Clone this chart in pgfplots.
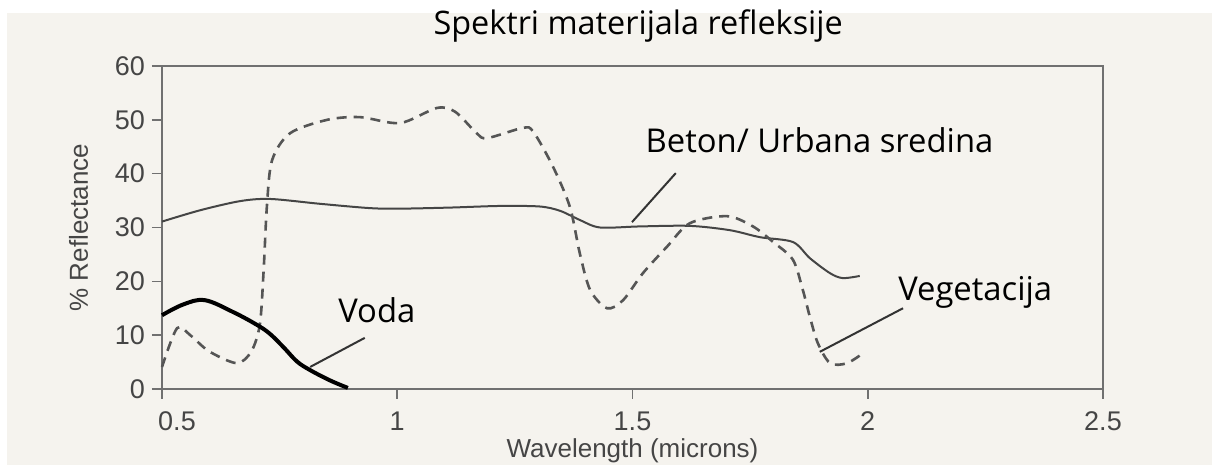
\documentclass[border=0pt]{standalone}
\usepackage{pgfplots}
\usepackage{pgfplotstable}
\pgfplotsset{compat=1.18}
\usepackage{fontspec}
\setmainfont{Open Sans}
\newfontfamily\labelfont{Liberation Sans}
\definecolor{bg}{HTML}{F5F3EE}
\definecolor{axgray}{HTML}{707070}
\definecolor{txtgray}{HTML}{454545}
\definecolor{concrete}{HTML}{454545}
\definecolor{veg}{HTML}{555555}
\definecolor{leader}{HTML}{333333}

\pgfplotstableread{
x y
0.500 31.1
0.581 33.2
0.666 34.9
0.730 35.3
0.836 34.4
0.942 33.6
1.006 33.5
1.112 33.7
1.218 34.0
1.303 33.9
1.346 33.1
1.388 31.4
1.431 30.0
1.516 30.2
1.622 30.3
1.707 29.5
1.771 28.2
1.841 27.3
1.877 24.3
1.920 21.5
1.947 20.6
1.983 21.0
}\concretedata

\pgfplotstableread{
x y
0.500 4.1
0.532 11.3
0.560 10.0
0.600 7.0
0.659 4.8
0.690 7.0
0.708 12.0
0.716 22.0
0.723 34.0
0.734 42.5
0.772 47.5
0.851 50.0
0.921 50.5
1.006 49.4
1.084 52.2
1.123 51.5
1.169 47.5
1.191 46.6
1.267 48.5
1.289 47.8
1.331 41.3
1.367 33.8
1.388 25.2
1.410 18.4
1.446 15.0
1.480 16.5
1.522 21.5
1.573 26.4
1.622 30.8
1.701 32.1
1.756 30.2
1.799 27.3
1.841 24.0
1.862 18.4
1.877 13.4
1.894 8.5
1.920 4.8
1.956 4.8
1.994 6.9
}\vegdata

\pgfplotstableread{
x y
0.500 13.7
0.545 15.7
0.591 16.5
0.651 14.3
0.702 11.9
0.730 10.2
0.760 7.6
0.787 5.1
0.815 3.5
0.857 1.6
0.895 0.2
}\waterdata

\begin{document}
\begin{tikzpicture}
\path[use as bounding box] (0,0) rectangle (606pt,232.5pt);
\fill[bg] (3.5pt,0) rectangle (606pt,226pt);
\begin{axis}[
  at={(81pt,38pt)}, anchor=south west,
  scale only axis, width=470.5pt, height=161.5pt,
  xmin=0.5, xmax=2.5, ymin=0, ymax=60,
  xtick={0.5,1,1.5,2,2.5},
  xticklabels={\hspace*{15pt}0.5,1,1.5,2,2.5},
  ytick={0,10,20,30,40,50,60},
  xtick pos=bottom, ytick pos=left,
  tick align=outside, major tick length=5pt,
  axis line style={axgray, line width=0.8pt},
  every tick/.style={axgray, line width=0.8pt},
  /pgf/number format/assume math mode=true,
  ticklabel style={font=\labelfont\fontsize{13.5}{15}\selectfont, text=txtgray},
  xticklabel style={yshift=-3pt},
  xlabel={Wavelength (microns)},
  ylabel={\% Reflectance},
  label style={font=\labelfont\fontsize{13}{15}\selectfont, text=txtgray},
  xlabel style={yshift=3pt},
  ylabel style={yshift=6.5pt},
  axis background/.style={fill=bg},
  clip=false,
]
\addplot[concrete, line width=1pt, smooth, tension=0.5] table[x=x,y=y] {\concretedata};
\addplot[veg, line width=1.3pt, dash pattern=on 5pt off 3.5pt, smooth, tension=0.5] table[x=x,y=y] {\vegdata};
\addplot[black, line width=2pt, smooth, tension=0.6] table[x=x,y=y] {\waterdata};

\draw[leader, line width=1pt] (axis cs:0.931,9.5) -- (axis cs:0.815,4.1);
\draw[leader, line width=1pt] (axis cs:1.592,40.1) -- (axis cs:1.499,31.0);
\draw[leader, line width=1pt] (axis cs:2.075,15.0) -- (axis cs:1.898,6.9);

\node[anchor=base west, inner sep=0, font=\fontsize{16.4}{19}\selectfont] at (axis cs:0.874,12.4) {Voda};
\node[anchor=base west, inner sep=0, font=\fontsize{16.4}{19}\selectfont] at (axis cs:1.527,44.0) {Beton/ Urbana sredina};
\node[anchor=base west, inner sep=0, font=\fontsize{16.4}{19}\selectfont] at (axis cs:2.064,16.5) {Vegetacija};

\node[anchor=base, inner sep=0, font=\fontsize{16.2}{19}\selectfont] at (rel axis cs:0.506,1) [yshift=15.5pt] {Spektri materijala refleksije};
\end{axis}
\end{tikzpicture}
\end{document}
